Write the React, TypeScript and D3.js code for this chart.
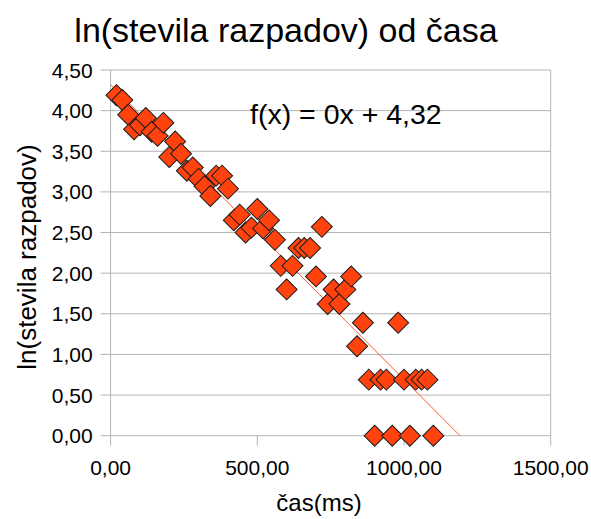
import * as d3 from 'd3';
import { useEffect, useRef } from 'react';

// measured points: time (ms) and ln(number of decays)
const times = [
  20, 40, 60, 80, 100, 120, 140, 160, 180, 200,
  220, 240, 260, 280, 300, 320, 340, 360, 380, 400,
  420, 440, 460, 480, 500, 520, 540, 560, 580, 600,
  620, 640, 660, 680, 700, 720, 740, 760, 780, 800,
  820, 840, 860, 880, 900, 920, 940, 960, 980, 1000,
  1020, 1040, 1060, 1080, 1100,
];
const lnCounts = [
  4.19, 4.13, 3.95, 3.77, 3.82, 3.91, 3.74, 3.69, 3.85, 3.43,
  3.62, 3.47, 3.26, 3.30, 3.16, 3.07, 2.95, 3.20, 3.20, 3.04,
  2.65, 2.72, 2.50, 2.56, 2.79, 2.55, 2.65, 2.41, 2.09, 1.80,
  2.09, 2.31, 2.31, 2.31, 1.96, 2.57, 1.62, 1.80, 1.62, 1.80,
  1.96, 1.10, 1.39, 0.69, 0, 0.69, 0.69, 0, 1.39, 0.69,
  0, 0.69, 0.69, 0.69, 0,
];
const xTicks = [0, 500, 1000, 1500];
const yTicks = [0, 0.5, 1, 1.5, 2, 2.5, 3, 3.5, 4, 4.5];
const trendIntercept = 4.32;
const trendSlope = -0.003628;

const titleText = 'ln(stevila razpadov) od časa';
const xLabel = 'čas(ms)';
const yLabel = 'ln(stevila razpadov)';
const equation = 'f(x) = 0x + 4,32';

const App = () => {
  const ref = useRef(null);

  useEffect(() => {
    const svg = d3.select(ref.current);
    svg.selectAll('*').remove();

    const width = 591;
    const height = 519;
    const margin = { top: 70, right: 40.3, bottom: 83.3, left: 110.6 };
    const font = '"Liberation Sans", Arial, sans-serif';
    const grid = '#b3b3b3';
    const fmt = (v) => d3.format('.2f')(v).replace('.', ',');

    const x = d3.scaleLinear().domain([0, 1500]).range([margin.left, width - margin.right]);
    const y = d3.scaleLinear().domain([0, 4.5]).range([height - margin.bottom, margin.top]);
    const bottom = height - margin.bottom;

    svg.attr('width', width).attr('height', height);

    // horizontal gridlines with ticks to the left
    svg.append('g')
      .selectAll('line')
      .data(yTicks)
      .enter()
      .append('line')
      .attr('x1', margin.left - 10)
      .attr('x2', width - margin.right)
      .attr('y1', d => y(d))
      .attr('y2', d => y(d))
      .attr('stroke', grid)
      .attr('stroke-width', 1);

    // vertical ticks (first and last run full height)
    svg.append('g')
      .selectAll('line')
      .data(xTicks)
      .enter()
      .append('line')
      .attr('x1', d => x(d))
      .attr('x2', d => x(d))
      .attr('y1', (d, i) => (i === 0 || i === xTicks.length - 1 ? margin.top : bottom))
      .attr('y2', bottom + 10)
      .attr('stroke', grid)
      .attr('stroke-width', 1);

    // y tick labels
    svg.append('g')
      .selectAll('text')
      .data(yTicks)
      .enter()
      .append('text')
      .attr('x', margin.left - 18)
      .attr('y', d => y(d))
      .attr('dy', '0.36em')
      .attr('text-anchor', 'end')
      .style('font-family', font)
      .style('font-size', '21px')
      .attr('fill', '#000')
      .text(fmt);

    // x tick labels
    svg.append('g')
      .selectAll('text')
      .data(xTicks)
      .enter()
      .append('text')
      .attr('x', d => x(d))
      .attr('y', bottom + 39)
      .attr('text-anchor', 'middle')
      .style('font-family', font)
      .style('font-size', '21px')
      .attr('fill', '#000')
      .text(fmt);

    // trend line
    const xEnd = -trendIntercept / trendSlope;
    svg.append('line')
      .attr('x1', x(0))
      .attr('y1', y(trendIntercept))
      .attr('x2', x(xEnd))
      .attr('y2', y(0))
      .attr('stroke', '#ff5a2a')
      .attr('stroke-width', 1);

    // points
    const points = times.map((t, i) => ({ t, v: lnCounts[i] }));
    const diamond = d3.symbol().type(d3.symbolSquare).size(220);
    svg.append('g')
      .selectAll('path')
      .data(points)
      .enter()
      .append('path')
      .attr('d', diamond)
      .attr('transform', d => `translate(${x(d.t)},${y(d.v)}) rotate(45)`)
      .attr('fill', '#ff420e')
      .attr('stroke', '#1a1a1a')
      .attr('stroke-width', 1);

    // title
    svg.append('text')
      .attr('x', 286)
      .attr('y', 42)
      .attr('text-anchor', 'middle')
      .style('font-family', font)
      .style('font-size', '34px')
      .attr('fill', '#000')
      .text(titleText);

    // equation
    svg.append('text')
      .attr('x', 250)
      .attr('y', 124)
      .style('font-family', font)
      .style('font-size', '28.5px')
      .attr('fill', '#000')
      .text(equation);

    // axis titles
    svg.append('text')
      .attr('x', 319)
      .attr('y', 511)
      .attr('text-anchor', 'middle')
      .style('font-family', font)
      .style('font-size', '24px')
      .attr('fill', '#000')
      .text(xLabel);

    svg.append('text')
      .attr('transform', `translate(36, 257) rotate(-90)`)
      .attr('text-anchor', 'middle')
      .style('font-family', font)
      .style('font-size', '26px')
      .attr('fill', '#000')
      .text(yLabel);
  }, []);

  return (
    <svg ref={ref} width="591" height="519" style={{ position: 'absolute', left: 0, top: 0 }}></svg>
  );
};

export default App;
